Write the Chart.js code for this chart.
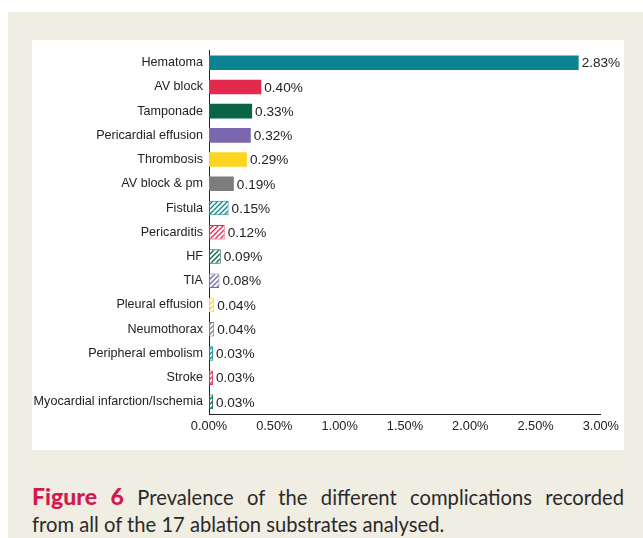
<!DOCTYPE html>
<html>
<head>
<meta charset="utf-8">
<script src="https://cdn.jsdelivr.net/npm/chart.js@4/dist/chart.umd.min.js"></script>
<style>
  html, body { margin: 0; padding: 0; }
  body { width: 643px; height: 538px; background: #fff; position: relative; overflow: hidden; }
  #frame { position: absolute; left: 8px; top: 12px; width: 635px; height: 526px; background: #f0eee3; }
  #panel { position: absolute; left: 32px; top: 40px; width: 592px; height: 410px; background: #fff; }
  #chart { position: absolute; left: 0; top: -3px; }
  #caption {
    position: absolute; left: 32px; top: 483px; width: 592px;
    font-family: Lato, "Open Sans", sans-serif; font-size: 20.2px; line-height: 27px;
    color: #2a2a2a;
  }
  #caption .l1 { text-align: justify; text-align-last: justify; }
  #caption b { color: #d31a4e; font-weight: 900; font-size: 23px; }
</style>
</head>
<body>
<div id="frame"></div>
<div id="panel"><canvas id="chart" width="592" height="413"></canvas></div>
<div id="caption">
  <div class="l1"><b>Figure 6</b> Prevalence of the different complications recorded</div>
  <div>from all of the 17 ablation substrates analysed.</div>
</div>
<script>
// chart data
const complications = ['Hematoma', 'AV block', 'Tamponade', 'Pericardial effusion', 'Thrombosis',
  'AV block & pm', 'Fistula', 'Pericarditis', 'HF', 'TIA', 'Pleural effusion', 'Neumothorax',
  'Peripheral embolism', 'Stroke', 'Myocardial infarction/Ischemia'];
const prevalence = [2.83, 0.40, 0.33, 0.32, 0.29, 0.19, 0.15, 0.12, 0.09, 0.08, 0.04, 0.04, 0.03, 0.03, 0.03];
const xTicks = ['0.00%', '0.50%', '1.00%', '1.50%', '2.00%', '2.50%', '3.00%'];

const teal = '#0c8390', red = '#e32a4c', green = '#0a6446', purple = '#7a67ad', yellow = '#fed422', grey = '#7d7d7d';
const baseColors = [teal, red, green, purple, yellow, grey, teal, red, green, purple, yellow, grey, teal, red, green];
const hatched = [false, false, false, false, false, false, true, true, true, true, true, true, true, true, true];

function hatch(color) {
  const c = document.createElement('canvas');
  c.width = 5; c.height = 5;
  const g = c.getContext('2d');
  g.fillStyle = '#fff';
  g.fillRect(0, 0, 5, 5);
  g.strokeStyle = color;
  g.lineWidth = 1.3;
  g.beginPath();
  g.moveTo(-1, 6); g.lineTo(6, -1);
  g.moveTo(-1, 1); g.lineTo(1, -1);
  g.moveTo(4, 6); g.lineTo(6, 4);
  g.stroke();
  return g.createPattern(c, 'repeat');
}

const ctx = document.getElementById('chart').getContext('2d');
const fills = baseColors.map(function(c, i) { return hatched[i] ? hatch(c) : c; });
const FONT = '"Liberation Sans", Arial, sans-serif';

const valueLabels = {
  id: 'valueLabels',
  afterDatasetsDraw(chart) {
    const g = chart.ctx;
    const meta = chart.getDatasetMeta(0);
    g.save();
    g.font = '13.6px ' + FONT;
    g.fillStyle = '#222';
    g.textBaseline = 'middle';
    g.textAlign = 'left';
    meta.data.forEach(function(bar, i) {
      g.fillText(prevalence[i].toFixed(2) + '%', bar.x + 3, bar.y + 1);
    });
    g.restore();
  }
};

new Chart(ctx, {
  type: 'bar',
  data: {
    labels: complications,
    datasets: [{
      data: prevalence,
      backgroundColor: fills,
      borderColor: baseColors,
      borderWidth: hatched.map(function(h) { return h ? 1 : 0; }),
      borderSkipped: false,
      categoryPercentage: 1,
      barPercentage: 0.6
    }]
  },
  options: {
    indexAxis: 'y',
    responsive: false,
    animation: false,
    layout: { padding: { top: 5, right: 22, left: 0, bottom: 0 } },
    plugins: { legend: { display: false }, tooltip: { enabled: false } },
    scales: {
      x: {
        min: 0, max: 3,
        grid: { display: false, drawTicks: false, tickLength: 0 },
        border: { display: true, color: '#222', width: 1 },
        ticks: {
          stepSize: 0.5,
          color: '#222',
          padding: 5,
          font: { family: FONT, size: 12.8 },
          callback: function(v, i) { return xTicks[i]; }
        },
        afterFit: function(s) { s.height = 36; }
      },
      y: {
        grid: { display: false, drawTicks: false, tickLength: 0 },
        border: { display: true, color: '#222', width: 1 },
        ticks: {
          color: '#222',
          padding: 6,
          autoSkip: false,
          font: { family: FONT, size: 12.6 }
        },
        afterFit: function(s) { s.width = 177; }
      }
    }
  },
  plugins: [valueLabels]
});
</script>
</body>
</html>
